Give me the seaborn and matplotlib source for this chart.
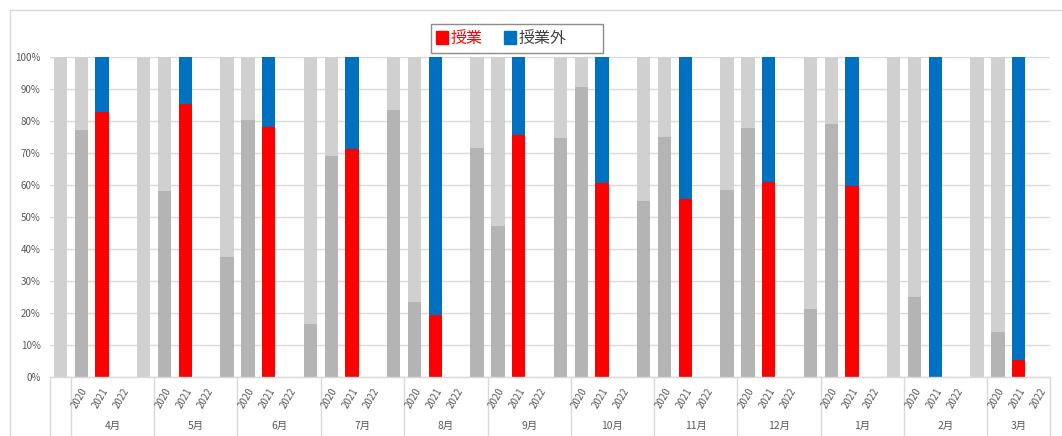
import matplotlib
matplotlib.use("Agg")
import numpy as np
import pandas as pd
import seaborn as sns
import matplotlib.pyplot as plt
from matplotlib.patches import Patch, Rectangle
from matplotlib.lines import Line2D

# ---------------- data (shares in %) ----------------
months = ['4月', '5月', '6月', '7月', '8月', '9月', '10月', '11月', '12月', '1月', '2月', '3月']
year_labels = ['2020', '2021', '2022']
# gray bar in the leading slot of each month block (dark-gray share)
lead_dark = [0.0, 0.0, 37.4, 16.6, 83.4, 71.7, 74.8, 55.0, 58.4, 21.4, 0.0, 0.0]
# gray bar in the "2020" slot (dark-gray share)
y2020_dark = [77.1, 58.2, 80.2, 69.1, 23.4, 47.2, 90.7, 74.9, 77.8, 79.1, 25.0, 14.1]
# "2021" slot: 授業 share (rest is 授業外)
y2021_class = [82.8, 85.4, 78.0, 71.2, 19.4, 75.6, 60.6, 55.5, 60.9, 59.7, 0.0, 5.4]
legend_labels = ['授業', '授業外']

C_LIGHT = '#d0d0d0'
C_DARK = '#b4b4b4'
C_RED = '#ff0000'
C_BLUE = '#0070c0'
C_GRID = '#d9d9d9'
C_TEXT = '#595959'

sns.set_theme(style='white')
plt.rcParams['font.family'] = ['Noto Sans CJK JP', 'DejaVu Sans']

W, H = 1062, 436
fig = plt.figure(figsize=(W / 100, H / 100), dpi=100)
ax = fig.add_axes([50 / W, (H - 377) / H, 1000 / W, 320 / H])

n_slots = 4 * len(months)
order = [f's{k:02d}' for k in range(n_slots)]
top_rows, bot_rows = [], []
for m in range(len(months)):
    k0 = 4 * m
    top_rows.append((order[k0], 100.0, 'light'))
    bot_rows.append((order[k0], lead_dark[m], 'dark'))
    top_rows.append((order[k0 + 1], 100.0, 'light'))
    bot_rows.append((order[k0 + 1], y2020_dark[m], 'dark'))
    top_rows.append((order[k0 + 2], 100.0, 'blue'))
    bot_rows.append((order[k0 + 2], y2021_class[m], 'red'))
top_df = pd.DataFrame(top_rows, columns=['slot', 'value', 'kind'])
bot_df = pd.DataFrame(bot_rows, columns=['slot', 'value', 'kind'])

pal = {'light': C_LIGHT, 'blue': C_BLUE, 'dark': C_DARK, 'red': C_RED}
sns.barplot(data=top_df, x='slot', y='value', hue='kind', order=order,
            hue_order=['light', 'blue'], palette=pal, dodge=False, width=0.64,
            errorbar=None, saturation=1, legend=False, linewidth=0, ax=ax)
sns.barplot(data=bot_df, x='slot', y='value', hue='kind', order=order,
            hue_order=['dark', 'red'], palette=pal, dodge=False, width=0.64,
            errorbar=None, saturation=1, legend=False, linewidth=0, ax=ax)

ax.set_xlim(-0.5, n_slots - 0.5)
ax.set_ylim(0, 100)
ax.set_yticks(np.arange(0, 101, 10))
ax.set_yticklabels([f'{v}%' for v in range(0, 101, 10)])
ax.set_xticks([])
ax.set_xlabel('')
ax.set_ylabel('')
ax.yaxis.grid(True, color=C_GRID, linewidth=1)
ax.set_axisbelow(True)
for s in ['top', 'left', 'right']:
    ax.spines[s].set_visible(False)
ax.spines['bottom'].set_color(C_GRID)
ax.spines['bottom'].set_linewidth(1)
ax.tick_params(axis='y', length=0, pad=6.7, labelsize=7, labelcolor=C_TEXT)

# multi-level category axis
trans = ax.get_xaxis_transform()
bounds = [-0.5] + [0.5 + 4 * m for m in range(len(months))] + [n_slots - 0.5]
for b in bounds:
    ax.plot([b, b], [0, -0.2], transform=trans, clip_on=False, color=C_GRID, lw=1)
y_year = (377 - 389) / 320
y_month = (377 - 426) / 320
for m, mon in enumerate(months):
    for j, lab in enumerate(year_labels):
        ax.text(4 * m + 1 + j + 0.2, y_year, lab, transform=trans, rotation=60,
                ha='right', va='center', rotation_mode='anchor', fontsize=7, color=C_TEXT)
    lo = 4 * m + 0.5
    hi = min(4 * m + 4.5, n_slots - 0.5)
    ax.text((lo + hi) / 2, y_month, mon, transform=trans, ha='center', va='center',
            fontsize=7.5, color=C_TEXT)

# chart border (cropped Excel chart area)
fig.add_artist(Line2D([9.5 / W, 9.5 / W], [0, 1 - 10.5 / H], transform=fig.transFigure,
                      color=C_GRID, lw=1))
fig.add_artist(Line2D([9.5 / W, 1], [1 - 10.5 / H, 1 - 10.5 / H], transform=fig.transFigure,
                      color=C_GRID, lw=1))

# legend
fig.add_artist(Rectangle((430.5 / W, 1 - 53.5 / H), 172 / W, 29.5 / H, transform=fig.transFigure,
                         fill=True, facecolor='white', edgecolor='#8c8c8c', lw=1))
leg = fig.legend(handles=[Patch(color=C_RED), Patch(color=C_BLUE)], labels=legend_labels,
                 loc='center left', bbox_to_anchor=(435.7 / W, 1 - 38.5 / H), ncol=2,
                 frameon=False, fontsize=11.5, handlelength=0.8, handleheight=0.8,
                 handletextpad=0.15, columnspacing=1.3, borderpad=0, borderaxespad=0)
leg.get_texts()[0].set_color(C_RED)
leg.get_texts()[1].set_color('#404040')

fig.savefig('out.png', dpi=100)
